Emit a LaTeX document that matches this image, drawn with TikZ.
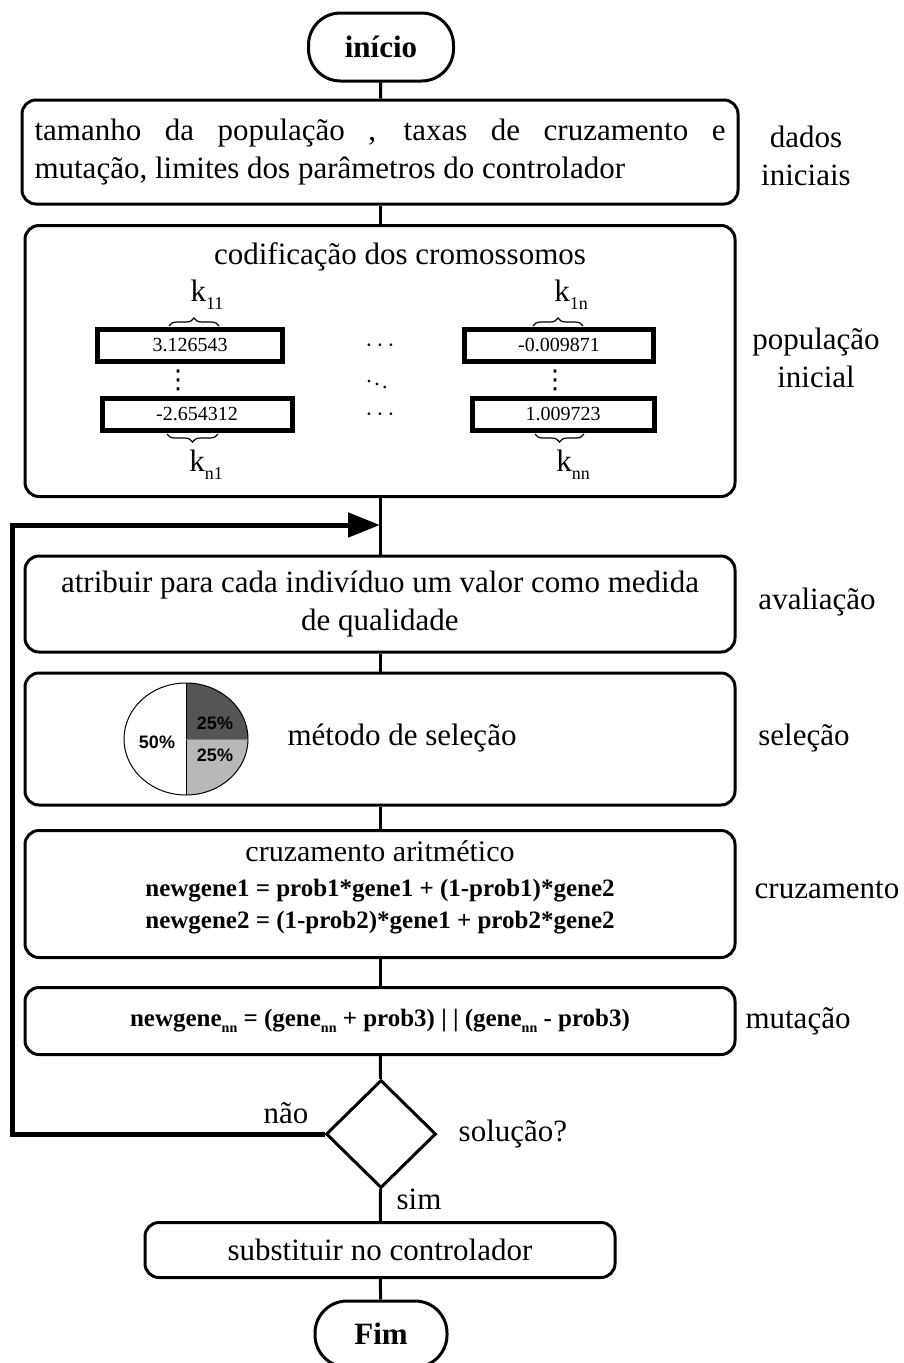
\documentclass[tikz,border=0pt]{standalone}
\usepackage{fontspec}
\setmainfont{Liberation Serif}
\newfontfamily\piefont{Liberation Sans}
\newfontfamily\dotfont{DejaVu Sans}
\usetikzlibrary{arrows.meta,positioning,shapes.geometric,decorations.pathreplacing,calc}
\definecolor{pieDark}{HTML}{555555}
\definecolor{pieLight}{HTML}{B8B8B8}
\newcommand\gaMain{\fontsize{31}{38}\selectfont}
\newcommand\gaEq{\fontsize{25}{32}\selectfont\bfseries}
\newcommand\gaNum{\fontsize{20}{22}\selectfont}
\newcommand\kidx[1]{k\raisebox{-8pt}{\fontsize{18}{18}\selectfont#1}}
\newcommand\gsub[1]{\raisebox{-6pt}{\fontsize{14}{14}\selectfont#1}}
\tikzset{
  % Process block of the flowchart.
  ga/box/.style={
    draw=black, fill=white, line width=3pt, rounded corners=14pt,
    inner sep=0pt, align=center, font=\gaMain, minimum width=710pt
  },
  % Start and end blocks.
  ga/term/.style={
    ga/box, rounded corners=32pt, font=\gaMain\bfseries, minimum width=0pt
  },
  % Decision.
  ga/gate/.style={
    draw=black, fill=white, line width=3pt, diamond, inner sep=0pt,
    minimum width=110pt, minimum height=108pt
  },
  % Step name on the right of the chart.
  ga/side/.style={font=\gaMain, align=center, inner sep=1pt},
  % Plain connector and the loop back.
  ga/link/.style={draw=black, line width=3pt},
  ga/loop/.style={-{Triangle[length=32pt,width=24pt]}, draw=black, line width=5pt},
}

\begin{document}
\begin{tikzpicture}[x=1pt,y=1pt,
  num/.style={draw=black, line width=5pt, minimum height=32pt, inner sep=0pt, font=\gaNum},
  brc/.style={decorate, decoration={brace, amplitude=8pt}, line width=1.2pt},
  dts/.style={font=\fontsize{22}{22}\selectfont, inner sep=0pt},
  vdt/.style={font=\dotfont\fontsize{26}{26}\selectfont, inner sep=0pt},
  pct/.style={font=\piefont\fontsize{18}{18}\selectfont\bfseries, inner sep=0pt}]

  \useasboundingbox (0,0) rectangle (904,-1363);

  \node[ga/term, minimum width=145pt, minimum height=68pt] (ini) at (381,-47) {início};
  \node[ga/box, minimum width=716pt, minimum height=104pt, text width=691pt, align=justify] (dados) at (380,-152)
       {tamanho da população , taxas de cruzamento e\linebreak mutação, limites dos parâmetros do controlador};
  \node[ga/box, minimum height=271pt] (pop) at (380,-361) {};
  \node[ga/box, minimum height=96pt] (aval) at (380,-604)
       {atribuir para cada indivíduo um valor como medida\\de qualidade};
  \node[ga/box, minimum height=132pt] (sel) at (380,-739) {};
  \node[ga/box, minimum height=127pt] (cruz) at (380,-894) {};
  \node[ga/box, minimum height=67pt] (mut) at (380,-1021)
       {\gaEq newgene\gsub{nn} = (gene\gsub{nn} + prob3) | | (gene\gsub{nn} - prob3)};
  \node[ga/gate] (sol) at (381,-1134) {};
  \node[ga/box, minimum width=470pt, minimum height=55pt] (subs) at (380,-1250) {substituir no controlador};
  \node[ga/term, minimum width=132pt, minimum height=66pt] (fim) at (381,-1334) {Fim};

  % chromosome coding
  \node[font=\gaMain] (cod) at (400,-257) {codificação dos cromossomos};
  \node[num, minimum width=185pt] (n11) at (190,-345) {3.126543};
  \node[num, minimum width=189pt] (n1n) at (559,-345) {-0.009871};
  \node[num, minimum width=190pt] (nn1) at (197,-414) {-2.654312};
  \node[num, minimum width=182pt] (nnn) at (563,-414) {1.009723};
  \node[dts] (d1) at (380,-348) {·\,·\,·};
  \node[dts] (d2) at (377,-381) {$\ddots$};
  \node[dts] (d3) at (380,-417) {·\,·\,·};
  \node[vdt] (v1) at (178,-380) {⋮};
  \node[vdt] (v2) at (555,-380) {⋮};
  \draw[brc] (169,-326) -- (219,-326);
  \draw[brc] (533,-326) -- (583,-326);
  \draw[brc] (218,-434) -- (167,-434);
  \draw[brc] (584,-434) -- (535,-434);
  \node[font=\gaMain] (k11) at (207,-295) {\kidx{11}};
  \node[font=\gaMain] (k1n) at (571,-295) {\kidx{1n}};
  \node[font=\gaMain] (kn1) at (206,-465) {\kidx{n1}};
  \node[font=\gaMain] (knn) at (573,-465) {\kidx{nn}};

  % roulette
  \coordinate (pc) at (186,-739);
  \fill[pieDark] (pc) -- ++(0,56) arc[start angle=90, end angle=0, x radius=62, y radius=56] -- cycle;
  \fill[pieLight] (pc) -- ++(62,0) arc[start angle=0, end angle=-90, x radius=62, y radius=56] -- cycle;
  \draw[line width=1pt] (pc) ellipse[x radius=62, y radius=56];
  \draw[line width=1pt] ($(pc)+(0,56)$) -- ($(pc)+(0,-56)$);
  \draw[line width=1pt, draw=gray] (pc) -- ++(62,0);
  \node[pct] (p50) at (157,-742) {50\%};
  \node[pct] (p25a) at (215,-723) {25\%};
  \node[pct] (p25b) at (215,-755) {25\%};
  \node[font=\gaMain] (met) at (402,-738) {método de seleção};

  % arithmetic crossover
  \node[font=\gaMain, align=center, inner sep=0pt] (cruzT) at (380,-887)
       {{\fontsize{30}{34}\selectfont cruzamento aritmético}\\[-3pt]
        {\gaEq newgene1 = prob1*gene1 + (1-prob1)*gene2}\\[-6pt]
        {\gaEq newgene2 = (1-prob2)*gene1 + prob2*gene2}};

  % step names
  \node[ga/side] (lDados) at (806,-156) {dados\\iniciais};
  \node[ga/side] (lPop) at (816,-358) {população\\inicial};
  \node[ga/side] (lAval) at (817,-602) {avaliação};
  \node[ga/side] (lSel) at (804,-738) {seleção};
  \node[ga/side] (lCruz) at (827,-890) {cruzamento};
  \node[ga/side] (lMut) at (798,-1021) {mutação};
  \node[ga/side, right=20pt of sol] (lSol) {solução?};
  \node[ga/side] (lNao) at (286,-1113) {não};
  \node[ga/side] (lSim) at (419,-1199) {sim};

  \draw[ga/link] (ini) -- (dados);
  \draw[ga/link] (dados) -- (pop);
  \draw[ga/link] (pop) -- (aval);
  \draw[ga/link] (aval) -- (sel);
  \draw[ga/link] (sel) -- (cruz);
  \draw[ga/link] (cruz) -- (mut);
  \draw[ga/link] (mut) -- (sol);
  \draw[ga/link] (sol) -- (subs);
  \draw[ga/link] (subs) -- (fim);
  \coordinate (join) at (380,-525);
  \draw[ga/loop] (sol.west) -- (12,-1134) |- (join);
\end{tikzpicture}
\end{document}
